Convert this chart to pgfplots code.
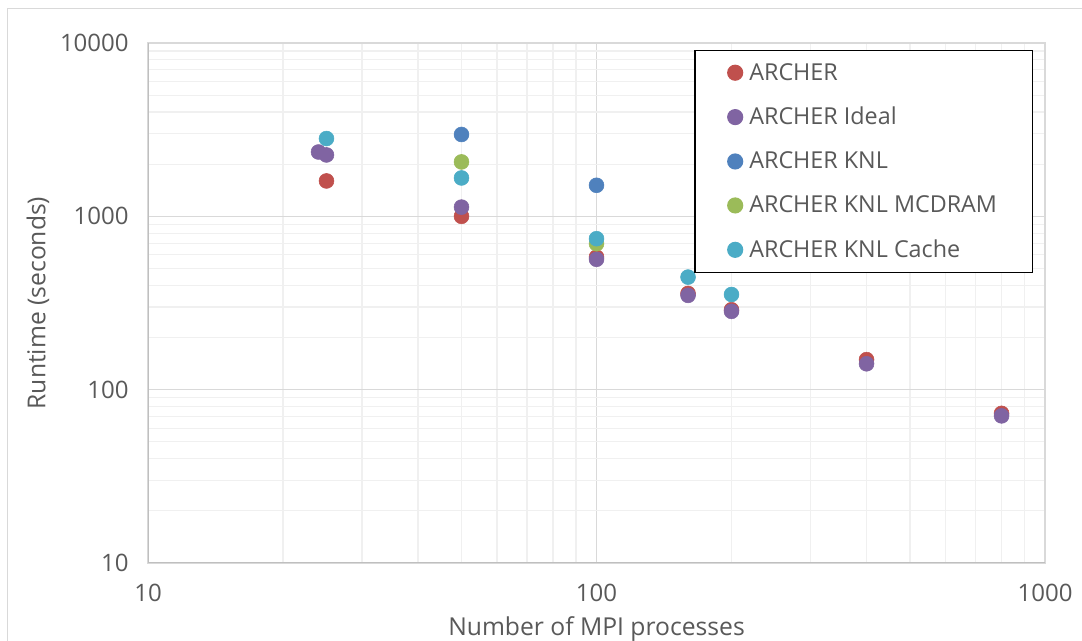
\documentclass[border=0pt]{standalone}
\usepackage{fontspec}
\setmainfont{Open Sans}
\usepackage{pgfplots}
\pgfplotsset{compat=1.18}
\definecolor{cArcher}{HTML}{C0504D}
\definecolor{cIdeal}{HTML}{8064A2}
\definecolor{cKNL}{HTML}{4F81BD}
\definecolor{cMCD}{HTML}{9BBB59}
\definecolor{cCache}{HTML}{4BACC6}
\definecolor{txt}{HTML}{595959}
\definecolor{majg}{HTML}{D9D9D9}
\definecolor{ming}{HTML}{F0F0F0}
\definecolor{axl}{HTML}{BFBFBF}
\begin{document}
\begin{tikzpicture}[x=0.75pt,y=0.75pt]
\useasboundingbox (-148,-78) rectangle (934,563);
\fill[white] (-148,-78) rectangle (934,563);
\draw[majg, line width=0.75pt] (-140,-120) rectangle (1000,554);
\begin{axis}[
  at={(0,0)}, anchor=south west,
  scale only axis, width=672.75pt, height=390pt,
  xmode=log, ymode=log,
  xmin=10, xmax=1000, ymin=10, ymax=10000,
  xtick={10,100,1000}, xticklabels={10,100,1000},
  ytick={10,100,1000,10000}, yticklabels={10,100,1000,10000},
  grid=both,
  major grid style={draw=majg, line width=0.9pt},
  minor grid style={draw=ming, line width=0.9pt},
  major tick length=0pt, minor tick length=0pt,
  axis line style={draw=majg, line width=0.9pt},
  tick label style={font=\fontsize{18}{21}\selectfont, text=txt},
  yticklabel style={xshift=-11pt},
  xticklabel style={yshift=-12pt},
  xlabel={Number of MPI processes},
  ylabel={Runtime (seconds)},
  every axis x label/.style={at={(axis description cs:0.5,-0.127)}, anchor=center, font=\fontsize{18.5}{22}\selectfont, text=txt},
  every axis y label/.style={at={(axis description cs:-0.1226,0.5)}, anchor=center, rotate=90, font=\fontsize{18.5}{22}\selectfont, text=txt},
  legend style={at={(0.9866,0.9865)}, anchor=north east, draw=black, line width=0.9pt,
    font=\fontsize{17.5}{21}\selectfont, text=txt, inner xsep=24.5pt, inner ysep=7.5pt,
    row sep=14.8pt, column sep=3pt, fill=white},
  legend cell align=left,
  every axis plot/.append style={only marks, mark=*, mark size=5.6pt},
]
\addplot[cArcher, mark options={fill=cArcher, draw=cArcher}] coordinates {
(25,1600) (50,1000) (100,582) (160,359) (200,289) (400,149) (800,73)};
\addlegendentry{ARCHER}
\addplot[cIdeal, mark options={fill=cIdeal, draw=cIdeal}] coordinates {
(24,2350) (25,2260) (50,1130) (100,565) (160,350) (200,283) (400,141) (800,70.6)};
\addlegendentry{ARCHER Ideal}
\addplot[cKNL, mark options={fill=cKNL, draw=cKNL}] coordinates {
(50,2966) (100,1510)};
\addlegendentry{ARCHER KNL}
\addplot[cMCD, mark options={fill=cMCD, draw=cMCD}] coordinates {
(50,2060) (100,695)};
\addlegendentry{ARCHER KNL MCDRAM}
\addplot[cCache, mark options={fill=cCache, draw=cCache}] coordinates {
(25,2810) (50,1665) (100,743) (160,446) (200,354)};
\addlegendentry{ARCHER KNL Cache}
\draw[axl, line width=0.9pt] (rel axis cs:0,1) -- (rel axis cs:0,0) -- (rel axis cs:1,0);
\end{axis}
\end{tikzpicture}
\end{document}
